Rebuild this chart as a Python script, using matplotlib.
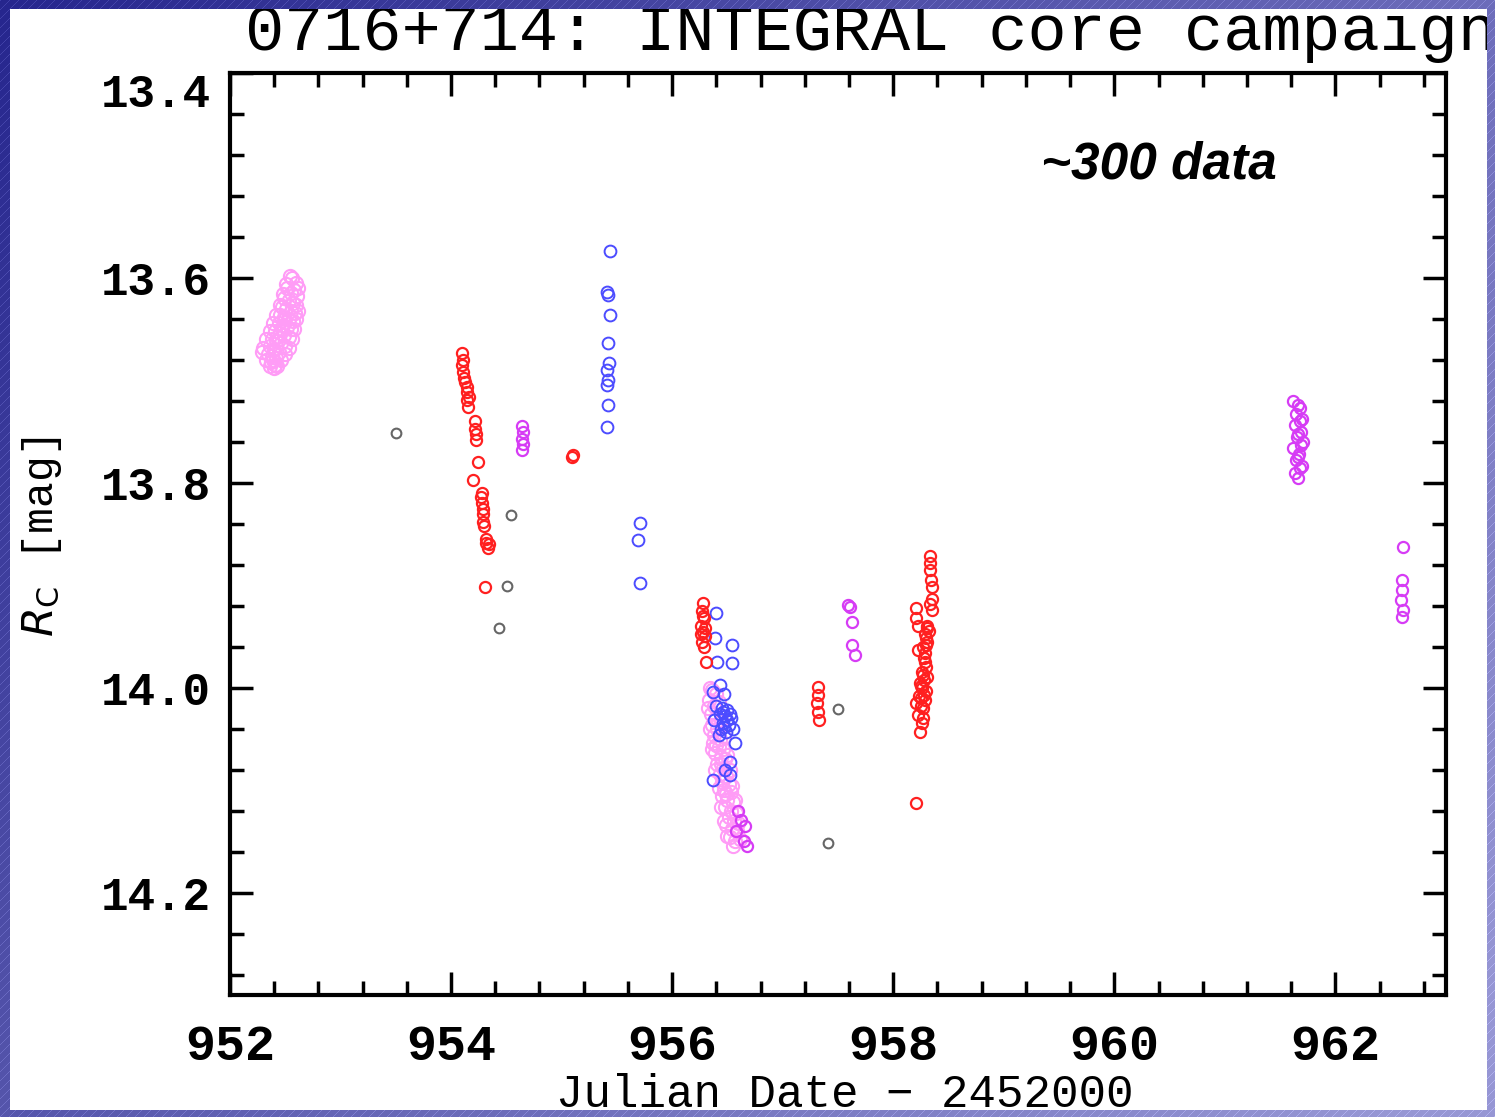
import numpy as np
import matplotlib
matplotlib.use("Agg")
import matplotlib.pyplot as plt

# photometry (JD - 2452000, R_C mag)
pink_x = [952.56, 952.60, 952.52, 952.58, 952.55, 952.61, 952.49, 952.53, 952.57, 952.60,
          952.47, 952.51, 952.55, 952.59, 952.45, 952.49, 952.53, 952.57, 952.44, 952.48,
          952.52, 952.55, 952.41, 952.45, 952.49, 952.53, 952.38, 952.42, 952.46, 952.50,
          952.36, 952.40, 952.44, 952.34, 952.38, 952.42, 952.37, 952.41, 952.39,
          952.30, 952.33, 952.36, 952.39, 952.42, 952.45, 952.48, 952.51, 952.54, 952.62,
          952.60, 952.58, 952.56, 952.53, 952.50, 952.46, 952.43, 952.40, 952.36, 952.33,
          952.29, 952.62, 952.47, 952.43, 952.50,
          956.36, 956.40, 956.33, 956.38, 956.35, 956.40, 956.36, 956.41, 956.38, 956.43,
          956.37, 956.42, 956.46, 956.39, 956.44, 956.48, 956.41, 956.46, 956.43, 956.49,
          956.45, 956.51, 956.47, 956.53, 956.45, 956.50, 956.55, 956.48, 956.53, 956.58,
          956.51, 956.56, 956.49, 956.54, 956.59, 956.52, 956.57,
          956.32, 956.34, 956.36, 956.39, 956.42, 956.44, 956.47, 956.50, 956.55, 956.60,
          956.57, 956.54, 956.52, 956.50, 956.47, 956.44, 956.42, 956.34, 956.61, 956.46,
          956.49, 956.44, 956.40]
pink_y = [13.600, 13.605, 13.610, 13.612, 13.615, 13.618, 13.620, 13.622, 13.624, 13.626,
          13.628, 13.630, 13.632, 13.634, 13.636, 13.638, 13.640, 13.642, 13.644, 13.646,
          13.648, 13.650, 13.652, 13.654, 13.656, 13.658, 13.660, 13.662, 13.664, 13.666,
          13.666, 13.670, 13.672, 13.674, 13.676, 13.678, 13.682, 13.685, 13.680,
          13.668, 13.660, 13.652, 13.644, 13.636, 13.626, 13.616, 13.606, 13.598, 13.632,
          13.640, 13.650, 13.660, 13.668, 13.674, 13.680, 13.686, 13.688, 13.686, 13.680,
          13.672, 13.610, 13.650, 13.658, 13.640,
          14.002, 14.006, 14.012, 14.018, 14.026, 14.030, 14.036, 14.040, 14.046, 14.050,
          14.054, 14.058, 14.060, 14.064, 14.068, 14.070, 14.074, 14.078, 14.084, 14.086,
          14.092, 14.094, 14.100, 14.102, 14.106, 14.110, 14.112, 14.116, 14.120, 14.122,
          14.126, 14.130, 14.134, 14.138, 14.140, 14.146, 14.150,
          14.020, 14.040, 14.060, 14.080, 14.098, 14.116, 14.130, 14.145, 14.155, 14.132,
          14.110, 14.096, 14.080, 14.066, 14.048, 14.032, 14.014, 14.000, 14.148, 14.090,
          14.104, 14.074, 14.056]

blue_x = [955.44, 955.41, 955.42, 955.44, 955.42, 955.43, 955.42, 955.41, 955.42, 955.41,
          955.41, 955.71, 955.69, 955.71,
          956.40, 956.39, 956.54, 956.41, 956.54, 956.43, 956.37, 956.47, 956.40, 956.45,
          956.50, 956.43, 956.48, 956.53, 956.38, 956.46, 956.51, 956.44, 956.49, 956.55,
          956.42, 956.57, 956.52, 956.37, 956.52, 956.48, 956.46, 956.50, 956.47, 956.52]
blue_y = [13.574, 13.614, 13.617, 13.636, 13.664, 13.683, 13.700, 13.705, 13.724, 13.746,
          13.690, 13.839, 13.856, 13.898,
          13.927, 13.951, 13.958, 13.975, 13.976, 13.997, 14.004, 14.006, 14.018, 14.020,
          14.022, 14.026, 14.028, 14.030, 14.032, 14.034, 14.036, 14.040, 14.043, 14.040,
          14.046, 14.054, 14.073, 14.090, 14.085, 14.080, 14.024, 14.032, 14.038, 14.026]

red_x = [954.10, 954.10, 954.11, 954.13, 954.14, 954.14, 954.15, 954.22, 954.23, 954.24,
         954.20, 954.28, 954.28, 954.29, 954.29, 954.32, 954.33, 954.31,
         954.11, 954.12, 954.14, 954.16, 954.23, 954.22, 954.27, 954.29, 954.30, 954.32,
         954.34,
         955.09, 955.10,
         956.28, 956.27, 956.29, 956.26, 956.28, 956.30, 956.27, 956.29, 956.31,
         956.28, 956.26, 956.30,
         957.32, 957.32, 957.31, 957.32, 957.33,
         958.33, 958.33, 958.35, 958.35, 958.35, 958.21, 958.21, 958.31, 958.30, 958.30,
         958.22, 958.28, 958.30, 958.27, 958.24, 958.26, 958.28, 958.21, 958.27, 958.22,
         958.26, 958.24, 958.32, 958.29, 958.31, 958.25, 958.30, 958.21,
         958.29, 958.31, 958.27, 958.29, 958.26, 958.28, 958.25, 958.29, 958.25, 958.27,
         958.23, 958.31, 958.33, 958.34, 958.33, 958.22]
red_y = [13.673, 13.685, 13.692, 13.702, 13.711, 13.719, 13.726, 13.747, 13.758, 13.780,
         13.797, 13.810, 13.820, 13.830, 13.838, 13.859, 13.864, 13.902,
         13.680, 13.698, 13.706, 13.716, 13.752, 13.740, 13.814, 13.826, 13.842, 13.855,
         13.860,
         13.775, 13.773,
         13.917, 13.925, 13.932, 13.940, 13.946, 13.950, 13.955, 13.960, 13.975,
         13.930, 13.948, 13.942,
         13.999, 14.007, 14.015, 14.024, 14.032,
         13.871, 13.885, 13.902, 13.913, 13.924, 13.922, 13.932, 13.942, 13.951, 13.958,
         13.963, 13.971, 13.980, 13.988, 13.995, 14.000, 14.007, 14.015, 14.020, 14.027,
         14.034, 14.043, 13.945, 13.966, 13.990, 14.010, 14.003, 14.113,
         13.948, 13.955, 13.960, 13.975, 13.985, 13.992, 13.998, 14.012, 14.018, 14.030,
         14.008, 13.940, 13.878, 13.895, 13.918, 13.940]

magenta_x = [954.64, 954.65, 954.64, 954.65, 954.64,
             956.62, 956.58, 956.65, 956.68, 956.60, 956.66,
             957.61, 957.59, 957.63, 957.63, 957.65,
             961.62, 961.68, 961.64, 961.70, 961.63, 961.69, 961.65, 961.71, 961.62, 961.67,
             961.64, 961.70, 961.63, 961.66, 961.66, 961.68, 961.66, 961.69, 961.66, 961.68,
             962.61, 962.60, 962.60, 962.59, 962.61, 962.60]
magenta_y = [13.745, 13.750, 13.757, 13.762, 13.768,
             14.129, 14.140, 14.150, 14.155, 14.120, 14.135,
             13.921, 13.919, 13.936, 13.958, 13.968,
             13.720, 13.727, 13.733, 13.738, 13.744, 13.750, 13.755, 13.760, 13.766, 13.772,
             13.778, 13.784, 13.790, 13.795, 13.724, 13.740, 13.752, 13.763, 13.775, 13.786,
             13.863, 13.895, 13.905, 13.914, 13.924, 13.931]

gray_x = [953.50, 954.54, 954.51, 954.43, 957.50, 957.41]
gray_y = [13.751, 13.831, 13.901, 13.942, 14.021, 14.152]

x_major = [952, 954, 956, 958, 960, 962]
y_major = [13.4, 13.6, 13.8, 14.0, 14.2]

mono = "Liberation Mono"

fig = plt.figure(figsize=(14.95, 11.17), dpi=100, facecolor="white")
ax = fig.add_axes([0.1538, 0.1092, 0.8134, 0.8254])

ax.plot(pink_x, pink_y, "o", mfc="none", mec="#ff9cf6", ms=9.5, mew=1.5)
ax.plot(blue_x, blue_y, "o", mfc="none", mec="#4c4cff", ms=8.5, mew=1.4)
ax.plot(red_x, red_y, "o", mfc="none", mec="#ff2020", ms=8, mew=1.6)
ax.plot(magenta_x, magenta_y, "o", mfc="none", mec="#d63cf5", ms=8, mew=1.6)
ax.plot(gray_x, gray_y, "o", mfc="none", mec="#666666", ms=7, mew=1.5)

ax.set_xlim(952, 963)
ax.set_ylim(14.3, 13.4)
ax.set_xticks(x_major)
ax.set_xticks(np.arange(952, 963.01, 0.4), minor=True)
ax.set_yticks(y_major)
ax.set_yticks(np.arange(13.4, 14.301, 0.04), minor=True)
ax.set_xticklabels([str(v) for v in x_major])
ax.set_yticklabels(["%.1f" % v for v in y_major])

for s in ax.spines.values():
    s.set_linewidth(3)
ax.tick_params(which="both", direction="in", top=True, right=True, width=2.5)
ax.tick_params(which="major", length=16.5)
ax.tick_params(which="minor", length=10)
ax.tick_params(axis="x", which="major", pad=21)
ax.tick_params(axis="y", which="major", pad=14)
for lab in ax.get_xticklabels():
    lab.set_family(mono)
    lab.set_fontsize(36)
    lab.set_fontweight("bold")
for lab in ax.get_yticklabels():
    lab.set_family(mono)
    lab.set_fontsize(33)
    lab.set_fontweight("bold")
ax.get_yticklabels()[0].set_verticalalignment("top")

ax.text(0.764, 0.900, "~300 data", transform=ax.transAxes, ha="center", va="center",
        fontsize=37, fontweight="bold", fontstyle="italic", family="Liberation Sans")

fig.text(245 / 1495, 1 - 50 / 1117, "0716+714: INTEGRAL core campaign", ha="left",
         va="baseline", fontsize=47, family=mono)
fig.text(845 / 1495, 1 - 1107 / 1117, "Julian Date \u2212 2452000", ha="center",
         va="baseline", fontsize=33, family=mono)
fig.text(42 / 1495, 1 - 537 / 1117, r"$R_{\rm C}$ [mag]", rotation=90, ha="center",
         va="center", fontsize=31, family=mono)

# blue slide frame round the white page
H, W = 1117, 1495
yy, xx = np.mgrid[0:H, 0:W]
t = np.clip(0.05 + 0.6 * xx / W + 0.4 * yy / H, 0, 1)
dark = np.array([32, 32, 138]) / 255
light = np.array([150, 150, 212]) / 255
rgba = np.zeros((H, W, 4))
rgba[..., :3] = dark + (light - dark) * t[..., None]
rgba[..., :3] += 0.10 * (((xx + yy) % 9) == 0)[..., None]
rgba = np.clip(rgba, 0, 1)
rgba[..., 3] = 1
rgba[9:1110, 10:1487, 3] = 0
ov = fig.add_axes([0, 0, 1, 1], zorder=10)
ov.set_facecolor("none")
ov.imshow(rgba, aspect="auto", interpolation="nearest")
ov.axis("off")

fig.savefig("out.png", dpi=100)
